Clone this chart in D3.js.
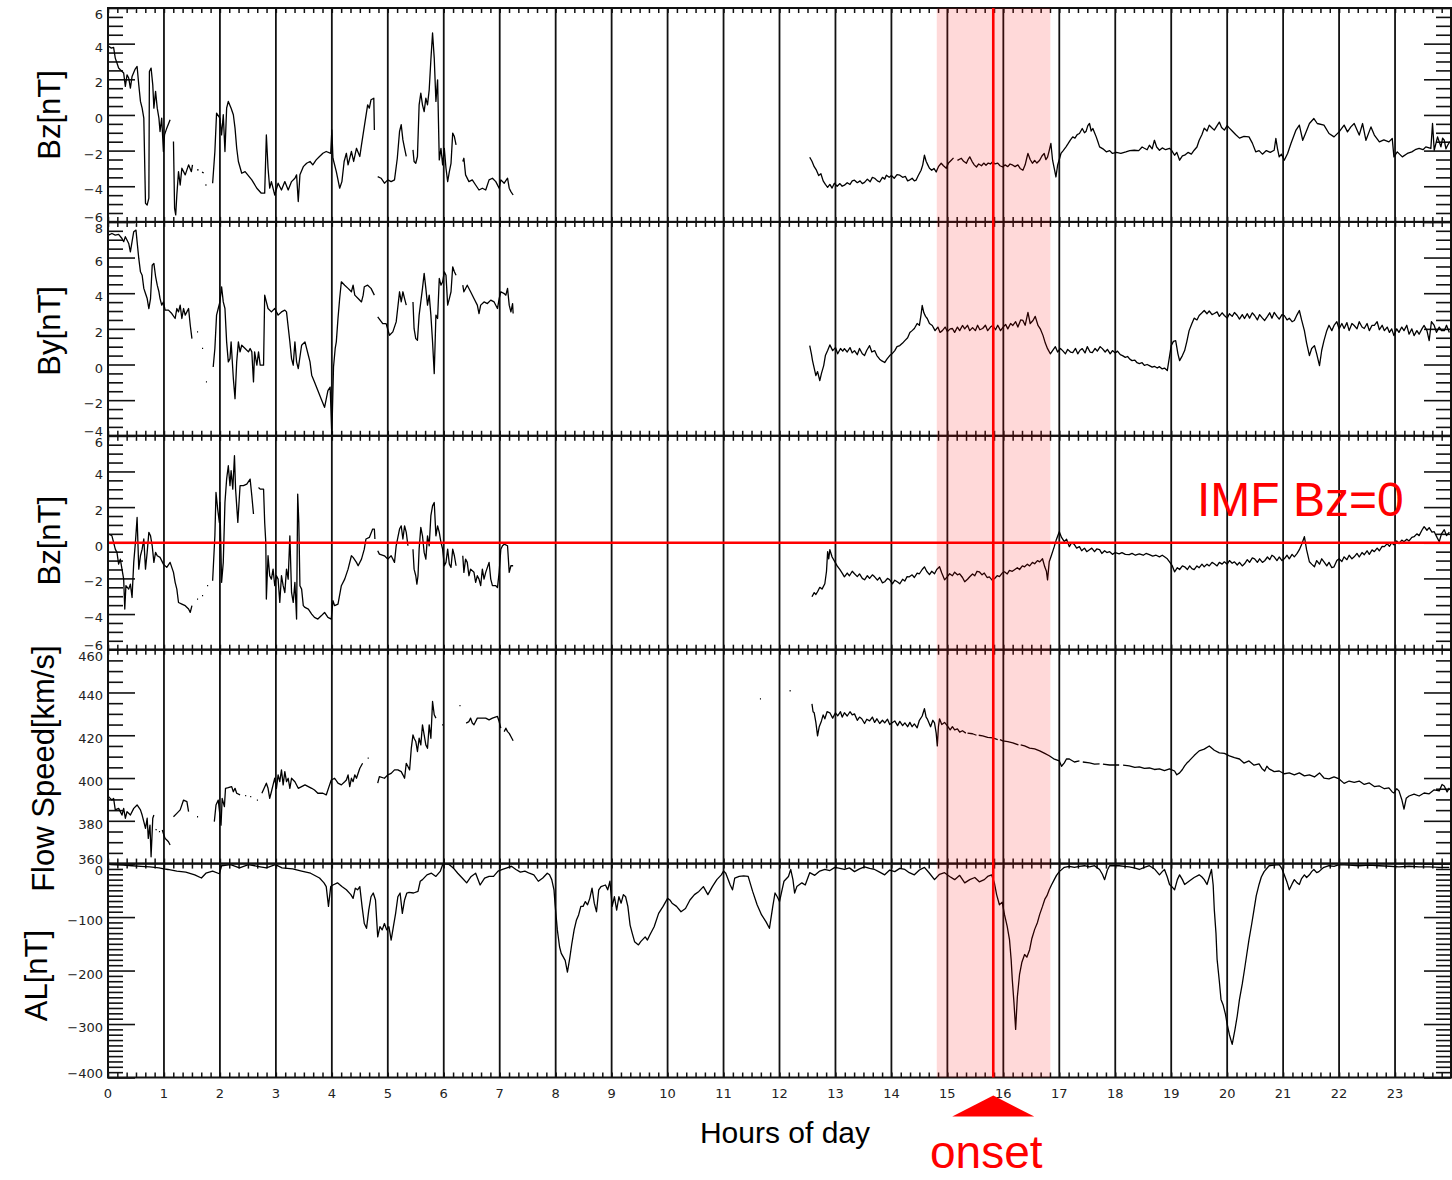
<!DOCTYPE html>
<html>
<head>
<meta charset="utf-8">
<script src="https://cdn.jsdelivr.net/npm/d3@7/dist/d3.min.js"></script>
<style>
  html, body { margin: 0; padding: 0; background: #fff; }
  svg { display: block; }
</style>
</head>
<body>
<svg id="chart" width="1452" height="1180"></svg>
<script>
// ---- DATA (hour of day, value); null breaks the trace ----
const bzTop = [
  [0.01,3.85],[0.06,3.75],[0.10,3.79],[0.13,3.19],[0.16,2.91],[0.19,2.63],[0.22,2.54],[0.28,2.35],[0.31,1.60],[0.34,2.25],[0.37,2.07],[0.40,1.51],[0.43,2.16],[0.48,2.54],[0.52,2.72],[0.55,1.69],[0.58,0.76],[0.61,0.38],[0.64,-0.18],[0.67,-4.96],[0.70,-5.05],[0.73,-4.67],[0.74,2.44],[0.77,2.63],[0.80,1.69],[0.82,0.38],[0.85,1.32],[0.88,0.38],[0.91,-0.18],[0.93,-0.93],[0.96,-0.18],[0.99,-2.05],[1.01,-1.12],[1.05,-0.74],[1.11,-0.27], null,
  [1.17,-1.49],[1.19,-5.24],[1.21,-5.61],[1.23,-4.49],[1.26,-3.18],[1.29,-3.93],[1.32,-2.99],[1.38,-3.36],[1.44,-2.80],[1.49,-3.18],[1.51,-2.80], null,
  [1.59,-3.08],[1.62,-3.08], null, [1.68,-3.21],[1.71,-3.25], null, [1.74,-3.93],[1.76,-3.93], null,
  [1.87,-3.83],[1.91,-2.05],[1.94,0.10],[2.00,-0.18],[2.03,-1.12],[2.06,0.01],[2.09,-2.05],[2.12,0.38],[2.15,0.76],[2.20,0.38],[2.24,0.01],[2.27,-0.74],[2.30,-1.87],[2.33,-2.61],[2.39,-3.27],[2.45,-3.18],[2.57,-3.64],[2.66,-4.11],[2.74,-4.39],[2.80,-4.39],[2.83,-1.12],[2.86,-2.99],[2.89,-4.11],[2.92,-3.74],[2.98,-4.49],[3.04,-3.83],[3.10,-4.21],[3.16,-3.74],[3.22,-4.21],[3.28,-3.74],[3.34,-3.55],[3.37,-3.36],[3.40,-4.86],[3.43,-3.36],[3.49,-2.90],[3.55,-2.71],[3.61,-2.61],[3.66,-2.80],[3.72,-2.52],[3.78,-2.33],[3.84,-2.15],[3.90,-2.05],[3.98,-2.15],[4.00,-0.84],[4.02,-2.43],[4.08,-3.18],[4.14,-4.11],[4.18,-3.74],[4.22,-2.61],[4.26,-2.15],[4.29,-2.80],[4.35,-2.05],[4.39,-2.61],[4.44,-1.87],[4.50,-2.33],[4.53,-1.68],[4.58,-0.65],[4.64,0.57],[4.67,0.38],[4.70,0.85],[4.75,0.94],[4.76,-0.84], null,
  [4.82,-3.46],[4.88,-3.55],[4.94,-3.83],[5.00,-3.64],[5.06,-3.74],[5.12,-3.64],[5.17,-2.43],[5.21,-0.93],[5.24,-0.55],[5.27,-1.40],[5.30,-1.87],[5.33,-2.33], null,
  [5.45,-1.96],[5.47,-2.61],[5.50,-2.71],[5.53,-2.33],[5.56,0.57],[5.59,1.22],[5.62,0.57],[5.65,0.19],[5.68,0.94],[5.71,0.57],[5.74,1.41],[5.77,3.10],[5.80,4.60],[5.83,3.19],[5.86,0.76],[5.89,1.97],[5.92,-2.52],[5.95,-1.87],[5.98,-2.80],[6.01,-1.87],[6.04,-2.99],[6.07,-3.74],[6.10,-3.18],[6.13,-2.71],[6.16,-1.02],[6.19,-1.21],[6.22,-1.68], null,
  [6.34,-2.61],[6.36,-2.43],[6.39,-3.36],[6.45,-3.74],[6.51,-3.64],[6.57,-3.93],[6.63,-4.21],[6.69,-4.11],[6.75,-4.21],[6.81,-3.64],[6.87,-3.55],[6.93,-3.74],[6.99,-4.11],[7.02,-3.64],[7.08,-3.83],[7.14,-3.55],[7.17,-4.11],[7.20,-4.30],[7.24,-4.49], null,
  [12.54,-2.37],[12.58,-2.6],[12.62,-2.9],[12.66,-3.1],[12.70,-3.4],[12.74,-3.3],[12.78,-3.7],[12.82,-3.9],[12.86,-4.06],[12.90,-3.9],[12.94,-4.1],[12.98,-3.83],[13.03,-4.0],[13.08,-3.85],[13.12,-4.0],[13.16,-3.94],[13.21,-3.8],[13.26,-3.9],[13.30,-3.7],[13.34,-3.66],[13.39,-3.8],[13.44,-3.7],[13.48,-3.85],[13.52,-3.78],[13.57,-3.6],[13.62,-3.75],[13.66,-3.5],[13.70,-3.55],[13.75,-3.7],[13.79,-3.76],[13.84,-3.5],[13.88,-3.6],[13.91,-3.38],[13.96,-3.5],[14.00,-3.4],[14.05,-3.55],[14.10,-3.35],[14.15,-3.38],[14.20,-3.5],[14.25,-3.45],[14.29,-3.7],[14.32,-3.66],[14.37,-3.55],[14.41,-3.7],[14.44,-3.66],[14.48,-3.4],[14.53,-3.10],[14.56,-2.8],[14.59,-2.26],[14.62,-2.6],[14.65,-2.8],[14.68,-2.99],[14.72,-3.1],[14.76,-3.0],[14.80,-3.20],[14.84,-2.9],[14.89,-2.71],[14.93,-2.85],[14.98,-2.99],[15.02,-2.7],[15.07,-2.54],[15.11,-2.41], null,
  [15.18,-2.55],[15.25,-2.43],[15.29,-2.6],[15.34,-2.71],[15.37,-2.5],[15.40,-2.35],[15.44,-2.6],[15.48,-2.8],[15.52,-2.92],[15.56,-2.75],[15.61,-2.85],[15.65,-2.7],[15.69,-2.82],[15.73,-2.7],[15.77,-2.75],[15.81,-2.63],[15.85,-2.75],[15.90,-2.7],[15.94,-2.85],[15.99,-2.92],[16.03,-2.8],[16.08,-2.9],[16.12,-2.75],[16.17,-2.82],[16.21,-2.9],[16.26,-2.8],[16.30,-3.0],[16.35,-3.10],[16.39,-2.8],[16.42,-2.4],[16.44,-2.16],[16.48,-2.5],[16.52,-2.71],[16.56,-2.55],[16.60,-2.7],[16.65,-2.54],[16.69,-2.3],[16.73,-2.16],[16.76,-2.5],[16.79,-2.37],[16.82,-2.0],[16.85,-1.60],[16.88,-2.54],[16.91,-3.0],[16.94,-3.48],[16.97,-2.82],[17.00,-2.5],[17.03,-2.16],[17.07,-2.0],[17.12,-1.79],[17.16,-1.6],[17.20,-1.4],[17.24,-1.23],[17.28,-1.3],[17.32,-1.1],[17.36,-1.04],[17.41,-0.76],[17.45,-1.0],[17.48,-0.91],[17.51,-0.6],[17.54,-0.48],[17.57,-0.9],[17.60,-0.76],[17.63,-1.0],[17.66,-1.23],[17.69,-1.5],[17.72,-1.79],[17.78,-1.9],[17.84,-2.07],[17.90,-2.0],[17.95,-2.16],[18.02,-2.1],[18.10,-2.15],[18.19,-2.07],[18.26,-2.0],[18.34,-1.98],[18.42,-2.0],[18.48,-1.8],[18.52,-1.87],[18.57,-1.95],[18.61,-1.70],[18.66,-1.9],[18.70,-1.42],[18.74,-1.8],[18.79,-1.98],[18.84,-1.85],[18.90,-1.95],[18.97,-1.87],[19.01,-2.0],[19.06,-2.26],[19.10,-2.1],[19.15,-2.54],[19.20,-2.3],[19.24,-2.26],[19.30,-2.1],[19.36,-2.2],[19.41,-1.98],[19.46,-1.8],[19.50,-1.42],[19.55,-1.1],[19.59,-0.74],[19.64,-0.9],[19.68,-0.57],[19.72,-0.7],[19.77,-0.85],[19.82,-0.6],[19.86,-0.40],[19.90,-0.7],[19.95,-0.85],[20.00,-0.6],[20.04,-0.74],[20.09,-0.9],[20.15,-1.1],[20.22,-1.30],[20.30,-1.2],[20.39,-1.23],[20.45,-1.58],[20.51,-2.07],[20.57,-2.0],[20.63,-2.20],[20.70,-2.0],[20.77,-2.1],[20.84,-1.98],[20.87,-1.32],[20.90,-1.9],[20.93,-2.35],[20.97,-2.2],[21.02,-2.54],[21.08,-2.16],[21.14,-1.60],[21.23,-0.85],[21.29,-0.57],[21.35,-1.42],[21.41,-0.95],[21.47,-0.48],[21.55,-0.20],[21.61,-0.48],[21.73,-0.57],[21.82,-1.04],[21.91,-1.23],[22.00,-0.95],[22.09,-0.57],[22.15,-0.95],[22.21,-0.67],[22.27,-0.48],[22.36,-1.13],[22.42,-0.48],[22.48,-1.42],[22.57,-0.67],[22.63,-1.13],[22.72,-1.51],[22.80,-1.4],[22.89,-1.51],[22.95,-1.32],[22.98,-2.35],[23.04,-2.07],[23.13,-2.35],[23.22,-2.16],[23.30,-2.07],[23.36,-1.95],[23.43,-1.88],[23.50,-1.95],[23.55,-1.79],[23.64,-1.88],[23.67,-0.48],[23.70,-1.98],[23.76,-1.23],[23.82,-1.79],[23.85,-1.3],[23.88,-1.42],[23.91,-1.9],[23.94,-1.70],[23.98,-1.5]
];

const byImf = [
  [0.01,7.26],[0.07,7.35],[0.13,7.26],[0.19,7.30],[0.25,7.07],[0.28,6.89],[0.31,7.17],[0.37,6.79],[0.40,6.32],[0.43,6.89],[0.46,7.45],[0.50,7.54],[0.52,6.89],[0.55,5.95],[0.58,5.20],[0.61,5.01],[0.64,4.27],[0.67,3.98],[0.70,3.70],[0.73,3.14],[0.76,3.70],[0.79,5.57],[0.82,5.67],[0.85,4.95],[0.88,4.45],[0.91,4.08],[0.93,3.70],[0.96,3.33],[0.99,3.51],[1.02,3.05],[1.08,3.05],[1.14,2.86],[1.20,2.58],[1.23,3.14],[1.26,2.95],[1.29,3.33],[1.32,2.58],[1.35,3.14],[1.38,2.77],[1.44,3.14],[1.47,2.20],[1.50,1.45], null,
  [1.59,1.83],[1.61,1.83], null, [1.68,0.90],[1.70,0.90], null, [1.75,-0.98],[1.77,-0.98], null,
  [1.88,-0.14],[1.91,0.90],[1.94,2.77],[1.97,3.14],[2.00,3.51],[2.03,4.36],[2.06,3.51],[2.09,3.14],[2.12,1.27],[2.15,0.15],[2.18,0.33],[2.20,1.27],[2.24,-0.79],[2.27,-1.92],[2.30,0.15],[2.33,1.27],[2.36,0.71],[2.39,1.08],[2.45,0.90],[2.51,0.71],[2.54,0.90],[2.57,0.71],[2.60,-0.98],[2.62,0.71],[2.66,-0.04],[2.69,0.71],[2.72,-0.04],[2.78,-0.04],[2.80,3.89],[2.83,3.51],[2.86,3.14],[2.92,2.95],[2.98,3.14],[3.04,2.77],[3.10,2.95],[3.16,3.05],[3.19,2.95],[3.25,1.27],[3.28,0.33],[3.31,-0.04],[3.34,1.27],[3.37,0.15],[3.40,-0.23],[3.46,1.08],[3.52,1.27],[3.58,0.52],[3.61,0.15],[3.64,-0.60],[3.69,-0.98],[3.75,-1.46],[3.81,-1.93],[3.87,-2.40],[3.93,-1.46],[3.97,-1.27],[4.00,-3.98],[4.03,-0.14],[4.06,0.90],[4.08,1.27],[4.11,2.58],[4.14,3.70],[4.17,4.64],[4.23,4.45],[4.29,4.27],[4.35,4.08],[4.38,4.45],[4.41,3.89],[4.47,3.70],[4.53,3.51],[4.56,3.89],[4.58,4.36],[4.64,4.45],[4.70,4.27],[4.76,3.89], null,
  [4.82,2.67],[4.91,2.29],[4.97,2.29],[5.03,1.64],[5.09,1.83],[5.15,2.39],[5.21,4.08],[5.24,3.51],[5.27,4.08],[5.30,3.70],[5.33,3.33], null,
  [5.45,3.51],[5.47,2.01],[5.50,1.45],[5.53,1.36],[5.56,2.77],[5.62,4.27],[5.65,5.11],[5.68,4.27],[5.71,3.33],[5.74,3.89],[5.77,2.77],[5.80,1.27],[5.83,-0.51],[5.86,2.77],[5.89,2.58],[5.92,4.83],[5.95,4.45],[5.98,4.64],[6.01,5.20],[6.04,5.01],[6.07,3.33],[6.10,3.70],[6.13,4.08],[6.16,5.48],[6.19,5.20],[6.22,5.01], null,
  [6.34,4.45],[6.36,4.08],[6.42,4.45],[6.48,4.08],[6.54,3.70],[6.60,3.33],[6.63,2.86],[6.66,3.33],[6.72,3.51],[6.78,3.42],[6.84,3.61],[6.90,3.51],[6.96,3.14],[6.99,3.70],[7.02,4.08],[7.08,3.98],[7.11,3.89],[7.14,4.27],[7.17,3.33],[7.20,2.95],[7.23,3.42],[7.24,2.86], null,
  [12.54,1.06],[12.57,0.6],[12.59,0.22],[12.62,-0.2],[12.65,-0.62],[12.68,-0.4],[12.72,-0.90],[12.75,-0.5],[12.79,-0.06],[12.82,0.5],[12.86,0.78],[12.90,1.1],[12.95,0.78],[13.00,0.95],[13.04,0.60],[13.09,0.9],[13.13,0.75],[13.16,0.89],[13.21,0.7],[13.26,0.95],[13.30,0.65],[13.34,0.78],[13.39,0.55],[13.43,0.9],[13.48,0.6],[13.52,0.50],[13.56,0.8],[13.61,1.06],[13.65,0.7],[13.70,0.78],[13.74,0.5],[13.79,0.30],[13.83,0.2],[13.88,0.11],[13.92,0.3],[13.97,0.50],[14.01,0.6],[14.06,0.78],[14.10,1.0],[14.15,1.06],[14.20,1.2],[14.24,1.34],[14.29,1.5],[14.33,1.79],[14.37,1.9],[14.41,2.02],[14.46,2.3],[14.50,2.20],[14.53,2.8],[14.55,3.31],[14.58,2.9],[14.61,2.7],[14.64,2.58],[14.68,2.3],[14.73,2.19],[14.78,1.9],[14.83,2.1],[14.87,1.8],[14.91,1.90],[14.96,2.1],[15.00,1.85],[15.05,2.0],[15.09,2.02],[15.13,1.8],[15.18,2.1],[15.22,1.9],[15.27,2.19],[15.31,2.0],[15.36,2.2],[15.40,1.9],[15.45,2.07],[15.50,1.9],[15.54,2.2],[15.58,1.95],[15.63,2.02],[15.68,2.2],[15.72,1.9],[15.77,2.1],[15.81,2.19],[15.86,1.95],[15.90,2.2],[15.95,1.9],[15.99,2.07],[16.04,2.25],[16.08,2.0],[16.13,2.3],[16.17,2.19],[16.22,2.4],[16.26,2.1],[16.31,2.5],[16.35,2.47],[16.39,2.2],[16.44,2.92],[16.48,2.3],[16.53,2.47],[16.57,2.7],[16.62,2.19],[16.66,2.0],[16.71,1.62],[16.75,1.2],[16.79,0.89],[16.84,0.6],[16.88,0.78],[16.93,1.0],[16.97,0.7],[17.02,0.9],[17.06,0.78],[17.11,0.6],[17.15,0.85],[17.20,0.7],[17.24,0.67],[17.29,0.9],[17.33,0.6],[17.37,0.8],[17.41,0.89],[17.46,0.65],[17.50,1.0],[17.55,0.7],[17.59,0.67],[17.64,0.9],[17.68,0.75],[17.73,1.0],[17.77,0.89],[17.82,0.7],[17.86,0.85],[17.91,0.6],[17.95,0.78],[18.00,0.65],[18.04,0.75],[18.09,0.55],[18.13,0.50],[18.18,0.4],[18.22,0.45],[18.26,0.3],[18.30,0.22],[18.35,0.25],[18.39,0.1],[18.43,0.05],[18.48,0.1],[18.52,-0.05],[18.57,0.0],[18.61,-0.06],[18.66,-0.15],[18.70,-0.1],[18.75,-0.2],[18.79,-0.12],[18.84,-0.25],[18.88,-0.2],[18.93,-0.34],[19.00,1.06],[19.04,1.3],[19.08,1.34],[19.12,0.6],[19.15,0.22],[19.20,0.5],[19.24,0.78],[19.28,1.3],[19.32,1.90],[19.37,2.3],[19.41,2.6],[19.46,2.5],[19.50,2.75],[19.55,2.9],[19.59,3.03],[19.64,2.85],[19.68,3.0],[19.73,2.8],[19.77,2.86],[19.82,2.95],[19.86,2.7],[19.91,2.9],[19.95,2.75],[20.00,2.6],[20.04,2.85],[20.09,2.7],[20.13,2.92],[20.18,2.75],[20.22,2.55],[20.27,2.8],[20.31,2.58],[20.36,2.85],[20.40,2.6],[20.45,2.9],[20.49,2.75],[20.54,2.5],[20.58,2.8],[20.63,2.6],[20.67,2.47],[20.72,2.7],[20.76,2.9],[20.80,2.6],[20.84,2.92],[20.89,2.7],[20.93,2.55],[20.98,2.8],[21.02,2.75],[21.07,2.5],[21.11,2.6],[21.16,2.4],[21.20,2.47],[21.25,2.8],[21.29,3.03],[21.33,2.5],[21.38,1.90],[21.42,1.2],[21.47,0.50],[21.51,0.9],[21.56,1.06],[21.60,0.6],[21.65,-0.06],[21.69,0.8],[21.73,1.34],[21.78,1.9],[21.82,2.2],[21.87,1.9],[21.91,2.19],[21.96,2.4],[22.00,2.0],[22.05,2.3],[22.09,2.02],[22.14,2.35],[22.18,1.9],[22.23,2.3],[22.27,2.19],[22.32,2.0],[22.36,2.4],[22.41,2.1],[22.45,2.02],[22.50,2.3],[22.54,1.9],[22.59,2.2],[22.63,2.19],[22.68,2.4],[22.72,1.95],[22.77,2.2],[22.81,1.90],[22.86,2.1],[22.90,1.8],[22.94,2.0],[22.98,1.62],[23.03,2.0],[23.07,1.8],[23.12,2.1],[23.16,1.90],[23.21,2.2],[23.25,1.7],[23.30,2.0],[23.34,1.62],[23.39,1.9],[23.43,1.7],[23.48,2.0],[23.52,2.19],[23.57,1.9],[23.61,1.34],[23.65,2.4],[23.70,2.19],[23.74,1.8],[23.79,2.1],[23.83,1.9],[23.88,1.90],[23.92,2.2],[23.97,1.8]
];

const bzLow = [
  [0.01,0.49],[0.07,0.39],[0.10,0.02],[0.13,-0.36],[0.16,-0.54],[0.19,-1.20],[0.22,-0.92],[0.25,-1.48],[0.28,-2.04],[0.30,-3.72],[0.32,-2.41],[0.37,-2.60],[0.40,-2.32],[0.43,-3.07],[0.46,-1.10],[0.49,0.02],[0.52,1.42],[0.55,-1.48],[0.58,-0.73],[0.61,-0.36],[0.64,0.21],[0.67,-1.48],[0.70,-0.54],[0.73,0.58],[0.76,0.39],[0.79,-0.17],[0.82,-1.10],[0.85,-0.54],[0.88,-0.73],[0.93,-0.82],[0.99,-1.20],[1.05,-1.38],[1.11,-1.10],[1.17,-1.66],[1.20,-2.22],[1.23,-2.60],[1.26,-3.35],[1.32,-3.44],[1.38,-3.53],[1.44,-3.72],[1.47,-3.91],[1.50,-3.53], null,
  [1.59,-3.16],[1.61,-3.16], null, [1.68,-2.97],[1.70,-2.97], null, [1.77,-2.41],[1.79,-2.41], null,
  [1.87,-2.13],[1.91,0.39],[1.93,2.82],[1.96,1.89],[1.99,1.14],[2.00,2.26],[2.03,-2.22],[2.06,-1.10],[2.09,2.26],[2.12,3.57],[2.15,4.32],[2.18,3.20],[2.20,4.04],[2.23,3.01],[2.26,4.88],[2.28,3.01],[2.32,1.14],[2.36,3.20],[2.42,3.20],[2.48,3.29],[2.54,3.57],[2.57,2.64],[2.60,1.61], null,
  [2.69,3.10],[2.72,3.01],[2.78,3.01],[2.80,1.14],[2.82,0.02],[2.83,-3.16],[2.86,-0.73],[2.89,-1.85],[2.92,-2.04],[2.95,-1.48],[2.98,-2.41],[3.01,-1.85],[3.04,-2.04],[3.07,-3.35],[3.10,-1.85],[3.13,-2.41],[3.16,-2.79],[3.19,-1.48],[3.22,-2.04],[3.25,0.39],[3.28,-2.79],[3.31,-3.35],[3.34,-2.22],[3.37,-4.28],[3.39,2.73],[3.41,1.14],[3.43,-2.41],[3.46,-2.60],[3.49,-3.53],[3.52,-3.63],[3.58,-3.72],[3.64,-4.00],[3.69,-4.19],[3.75,-4.28],[3.81,-4.10],[3.87,-3.91],[3.93,-4.19],[3.99,-4.28],[4.02,-3.25],[4.05,-3.53],[4.11,-3.44],[4.17,-2.41],[4.23,-2.04],[4.29,-1.48],[4.35,-0.73],[4.38,-0.82],[4.44,-1.10],[4.47,-1.29],[4.53,-0.92],[4.58,-0.36],[4.61,0.21],[4.67,0.30],[4.73,0.77],[4.76,0.77],[4.77,0.21], null,
  [4.82,-0.45],[4.85,-0.64],[4.94,-0.73],[5.00,-0.92],[5.06,-0.73],[5.12,-1.10],[5.15,-0.17],[5.18,0.30],[5.21,0.77],[5.24,0.95],[5.27,0.21],[5.30,0.95],[5.33,0.58],[5.36,-0.17], null,
  [5.45,-0.36],[5.47,-1.48],[5.50,-1.85],[5.52,-2.32],[5.54,-1.85],[5.56,-0.36],[5.59,0.86],[5.62,0.39],[5.65,-0.54],[5.68,-0.92],[5.71,0.39],[5.74,-0.17],[5.77,1.52],[5.80,2.07],[5.83,2.26],[5.86,0.39],[5.89,0.95],[5.92,0.58],[5.95,0.02],[5.98,-0.36],[6.01,-1.29],[6.04,-1.10],[6.07,-0.36],[6.10,-1.20],[6.13,-1.38],[6.16,-0.36],[6.19,-0.73],[6.22,-1.29], null,
  [6.34,-0.73],[6.36,-1.66],[6.39,-0.92],[6.42,-1.10],[6.45,-1.85],[6.48,-1.48],[6.54,-1.66],[6.57,-2.22],[6.60,-1.85],[6.63,-2.04],[6.66,-2.41],[6.69,-1.48],[6.72,-2.04],[6.75,-1.66],[6.78,-1.38],[6.81,-1.10],[6.84,-2.04],[6.87,-2.41],[6.93,-2.41],[6.96,-2.51],[6.99,-1.66],[7.02,-0.36],[7.05,-0.17],[7.08,-0.08],[7.14,-0.17],[7.17,-1.66],[7.20,-1.29],[7.24,-1.29], null,
  [12.58,-3.03],[12.62,-2.8],[12.65,-2.9],[12.68,-2.75],[12.72,-2.5],[12.76,-2.6],[12.81,-2.30],[12.84,-1.6],[12.86,-0.50],[12.88,-0.9],[12.90,-0.39],[12.94,-0.8],[12.99,-1.07],[13.03,-1.3],[13.08,-1.51],[13.12,-1.7],[13.16,-1.91],[13.21,-1.7],[13.25,-1.85],[13.30,-1.6],[13.34,-1.74],[13.39,-1.9],[13.43,-1.75],[13.48,-2.0],[13.52,-2.08],[13.57,-1.85],[13.61,-2.0],[13.66,-1.8],[13.70,-1.91],[13.75,-2.1],[13.79,-1.95],[13.84,-2.25],[13.88,-2.19],[13.93,-2.0],[13.97,-2.08],[14.02,-2.3],[14.06,-2.1],[14.11,-2.2],[14.15,-2.30],[14.20,-2.05],[14.24,-2.15],[14.28,-1.9],[14.32,-1.91],[14.37,-1.8],[14.41,-1.95],[14.46,-1.7],[14.50,-1.74],[14.55,-1.5],[14.59,-1.35],[14.63,-1.6],[14.68,-1.79],[14.72,-1.6],[14.77,-1.74],[14.81,-1.5],[14.86,-1.35],[14.90,-1.7],[14.95,-2.08],[15.00,-1.9],[15.04,-1.74],[15.09,-1.85],[15.13,-1.65],[15.18,-1.8],[15.22,-1.74],[15.27,-1.95],[15.31,-2.19],[15.36,-2.05],[15.40,-1.91],[15.45,-1.75],[15.49,-1.85],[15.53,-1.6],[15.57,-1.63],[15.62,-1.8],[15.66,-1.7],[15.71,-1.95],[15.75,-1.91],[15.80,-2.1],[15.84,-2.02],[15.89,-1.85],[15.93,-1.9],[15.98,-1.7],[16.02,-1.63],[16.07,-1.75],[16.11,-1.55],[16.16,-1.6],[16.20,-1.51],[16.25,-1.4],[16.29,-1.5],[16.34,-1.3],[16.38,-1.35],[16.43,-1.2],[16.47,-1.3],[16.52,-1.1],[16.56,-1.18],[16.61,-1.0],[16.65,-1.07],[16.70,-0.9],[16.74,-1.35],[16.77,-1.6],[16.79,-2.08],[16.82,-1.07],[16.86,-0.7],[16.91,-0.22],[16.95,0.2],[17.00,0.62],[17.04,0.3],[17.09,0.06],[17.13,0.2],[17.18,-0.22],[17.22,0.0],[17.27,-0.1],[17.31,-0.3],[17.36,-0.22],[17.40,-0.45],[17.45,-0.3],[17.49,-0.5],[17.54,-0.39],[17.58,-0.3],[17.63,-0.5],[17.67,-0.35],[17.72,-0.39],[17.76,-0.6],[17.81,-0.45],[17.85,-0.55],[17.90,-0.50],[17.95,-0.65],[18.00,-0.55],[18.07,-0.62],[18.12,-0.55],[18.18,-0.65],[18.25,-0.67],[18.30,-0.6],[18.36,-0.7],[18.43,-0.62],[18.50,-0.7],[18.55,-0.6],[18.61,-0.67],[18.67,-0.75],[18.73,-0.7],[18.79,-0.79],[18.84,-0.7],[18.88,-0.79],[18.93,-0.9],[18.97,-1.07],[19.02,-1.3],[19.06,-1.63],[19.11,-1.4],[19.15,-1.5],[19.20,-1.3],[19.24,-1.35],[19.29,-1.5],[19.33,-1.3],[19.37,-1.45],[19.41,-1.51],[19.46,-1.3],[19.50,-1.4],[19.55,-1.2],[19.59,-1.35],[19.64,-1.2],[19.68,-1.3],[19.73,-1.1],[19.77,-1.18],[19.82,-1.3],[19.86,-1.1],[19.91,-1.2],[19.95,-1.07],[20.00,-1.2],[20.04,-1.0],[20.09,-1.15],[20.13,-1.07],[20.18,-1.25],[20.22,-1.1],[20.27,-1.3],[20.31,-1.18],[20.36,-0.95],[20.40,-1.1],[20.45,-0.85],[20.49,-0.90],[20.54,-1.1],[20.58,-0.9],[20.63,-1.1],[20.67,-1.01],[20.72,-0.8],[20.76,-0.95],[20.80,-0.7],[20.84,-0.79],[20.89,-1.0],[20.93,-0.8],[20.98,-1.0],[21.02,-0.90],[21.07,-0.7],[21.11,-0.9],[21.16,-0.65],[21.20,-0.79],[21.25,-0.6],[21.29,-0.39],[21.33,-0.1],[21.38,0.34],[21.42,-0.4],[21.47,-1.07],[21.51,-1.2],[21.56,-1.35],[21.60,-1.0],[21.65,-1.2],[21.69,-0.9],[21.73,-1.07],[21.78,-1.3],[21.82,-1.1],[21.87,-1.4],[21.91,-1.35],[21.96,-1.0],[22.00,-0.9],[22.05,-1.05],[22.09,-0.79],[22.14,-0.95],[22.18,-0.7],[22.23,-0.9],[22.27,-0.79],[22.32,-0.6],[22.36,-0.8],[22.41,-0.55],[22.45,-0.67],[22.50,-0.45],[22.54,-0.65],[22.59,-0.4],[22.63,-0.50],[22.68,-0.3],[22.72,-0.45],[22.77,-0.2],[22.81,-0.22],[22.86,-0.05],[22.90,-0.2],[22.94,0.0],[22.98,-0.11],[23.03,0.1],[23.07,-0.05],[23.12,0.15],[23.16,0.06],[23.21,0.2],[23.25,0.1],[23.30,0.3],[23.34,0.34],[23.39,0.5],[23.43,0.4],[23.48,0.7],[23.52,0.90],[23.57,0.7],[23.61,0.85],[23.66,0.6],[23.70,0.62],[23.75,0.3],[23.79,0.06],[23.83,0.5],[23.88,0.73],[23.92,0.4],[23.97,0.6]
];

const flowSpeed = [
  [0.01,391.3],[0.04,390.5],[0.07,389.7],[0.10,390.5],[0.13,385.1],[0.19,385.8],[0.22,384.3],[0.25,382.7],[0.28,385.8],[0.31,381.2],[0.34,384.3],[0.40,382.7],[0.46,385.8],[0.52,387.4],[0.58,385.1],[0.61,382.7],[0.64,379.6],[0.67,376.5],[0.70,381.2],[0.72,371.8],[0.75,378.0],[0.77,363.2],[0.80,381.2],[0.82,382.7], null,
  [0.85,376.0],[0.87,375.7], null, [0.91,375.0],[0.93,374.9], null,
  [0.97,375.7],[0.99,374.1],[1.02,371.8],[1.05,371.0],[1.08,370.2],[1.11,368.7], null,
  [1.17,381.9],[1.23,383.5],[1.29,385.1],[1.35,389.7],[1.41,389.0],[1.44,384.3], null,
  [1.59,381.9],[1.61,381.9], null,
  [1.90,379.6],[1.93,387.4],[1.97,389.7],[2.02,378.0],[2.04,390.5],[2.08,386.6],[2.10,395.2],[2.15,395.5],[2.21,396.0],[2.24,393.6],[2.27,395.2],[2.30,392.9],[2.36,392.1], null,
  [2.45,391.8],[2.47,391.8], null, [2.54,391.3],[2.56,391.3], null, [2.66,389.7],[2.68,389.7], null,
  [2.75,392.9],[2.83,397.6],[2.86,395.2],[2.89,390.5],[2.92,393.6],[2.95,396.8],[2.98,399.9],[3.01,395.2],[3.04,401.5],[3.07,398.3],[3.10,403.8],[3.13,396.8],[3.16,403.0],[3.19,398.3],[3.22,399.9],[3.25,395.2],[3.28,399.9],[3.34,398.3],[3.40,395.2],[3.46,396.0],[3.52,396.8],[3.58,396.0],[3.64,395.2],[3.69,394.4],[3.75,392.9],[3.84,392.9],[3.90,392.1],[3.96,396.8],[3.99,399.1],[4.05,399.9],[4.11,397.6],[4.17,396.8],[4.23,398.3],[4.26,399.1],[4.29,401.5],[4.32,396.0],[4.35,399.9],[4.38,398.3],[4.41,401.5],[4.44,399.9],[4.50,404.6],[4.55,406.9], null,
  [4.64,409.3],[4.66,409.3], null,
  [4.82,397.6],[4.85,400.7],[4.94,399.9],[5.00,401.5],[5.06,402.2],[5.12,403.8],[5.18,403.8],[5.24,403.0],[5.27,401.5],[5.30,399.9],[5.33,406.9],[5.36,405.4],[5.39,403.8],[5.42,413.9],[5.45,420.2],[5.47,418.6],[5.50,417.1],[5.53,412.4],[5.56,418.6],[5.59,415.5],[5.62,424.9],[5.65,420.2],[5.68,415.5],[5.71,413.9],[5.74,424.9],[5.77,418.6],[5.80,435.8],[5.83,429.6],[5.86,428.0], null,
  [5.97,424.9],[5.99,424.9], null, [6.28,433.9],[6.30,433.9], null,
  [6.40,425.7],[6.45,426.4],[6.48,428.0],[6.51,425.7],[6.54,424.9],[6.60,428.0],[6.69,428.0],[6.75,428.0],[6.81,427.2],[6.87,428.0],[6.96,428.8],[6.99,426.4],[7.02,423.3], null,
  [7.08,421.7],[7.11,423.3],[7.14,421.7],[7.17,420.9],[7.20,419.4],[7.24,417.4], null,
  [11.65,437.0],[11.67,437.0], null, [12.18,440.8],[12.20,440.8], null,
  [12.58,434.7],[12.60,431.0],[12.62,430.5],[12.65,426.0],[12.68,419.7],[12.71,424.0],[12.75,426.7],[12.78,429.5],[12.81,427.7],[12.85,431.0],[12.90,430.5],[12.95,428.0],[13.00,430.5],[13.04,429.1],[13.09,431.0],[13.12,428.5],[13.16,430.5],[13.21,429.0],[13.26,431.0],[13.30,429.5],[13.34,430.0],[13.39,427.0],[13.43,428.5],[13.47,427.7],[13.52,425.5],[13.56,427.5],[13.61,426.7],[13.66,428.5],[13.70,426.0],[13.74,427.7],[13.79,425.5],[13.84,427.0],[13.88,425.8],[13.93,427.5],[13.97,425.0],[14.02,426.0],[14.06,426.7],[14.11,424.5],[14.15,426.5],[14.20,424.5],[14.24,425.8],[14.29,424.0],[14.33,426.0],[14.37,424.0],[14.41,425.3],[14.46,423.5],[14.50,427.0],[14.55,429.0],[14.59,432.4],[14.62,428.5],[14.64,427.7],[14.70,424.0],[14.74,427.0],[14.77,425.8],[14.80,421.0],[14.82,415.0],[14.84,424.0],[14.86,427.7],[14.90,425.0],[14.95,426.0],[15.00,424.4],[15.05,422.5],[15.09,424.0],[15.13,422.5],[15.18,423.0],[15.22,421.5],[15.27,422.1],[15.33,421.0], null,
  [15.36,421.0],[15.45,420.7],[15.52,420.0], null, [15.56,420.0],[15.63,419.7],[15.72,419.0],[15.81,418.8],[15.90,418.0], null, [15.94,418.0],[15.99,417.4],[16.08,417.0],[16.17,416.4],[16.27,415.5], null, [16.31,415.5],[16.38,415.0],[16.47,414.0],[16.56,413.6],[16.65,412.7],[16.74,411.5],[16.82,410.4],[16.90,409.0],[17.00,408.0],[17.04,405.5],[17.09,407.1],[17.13,409.0],[17.18,408.9],[17.27,407.5],[17.36,408.0], null,
  [17.42,407.5],[17.54,407.1],[17.63,406.5],[17.72,406.6], null, [17.78,406.5],[17.90,406.1],[18.07,406.1], null, [18.14,406.0],[18.25,405.7],[18.35,405.0],[18.43,405.2],[18.52,404.5],[18.61,404.7],[18.70,404.0],[18.79,404.3],[18.88,403.5],[18.97,404.3],[19.06,403.3],[19.10,401.5],[19.15,402.4],[19.20,404.0],[19.24,405.7],[19.28,407.0],[19.32,408.0],[19.41,410.5],[19.50,412.7],[19.59,413.5],[19.68,415.0],[19.77,413.0],[19.86,411.8],[19.95,411.5],[20.04,410.4],[20.13,409.5],[20.22,408.9],[20.30,407.0],[20.39,408.0],[20.48,406.0],[20.57,406.6],[20.62,404.5],[20.67,403.3],[20.71,405.5],[20.75,404.3],[20.84,403.0],[20.93,403.3],[21.02,402.0],[21.11,402.4],[21.20,401.5],[21.29,402.4],[21.38,401.0],[21.47,401.5],[21.56,400.5],[21.65,402.4],[21.73,400.0],[21.82,399.6],[21.91,400.5],[22.00,399.6],[22.09,397.5],[22.18,398.6],[22.27,398.0],[22.36,398.6],[22.45,397.0],[22.54,397.7],[22.63,396.0],[22.72,396.3],[22.81,395.0],[22.89,395.4],[22.95,393.5],[22.98,393.0],[23.03,395.0],[23.07,394.0],[23.12,390.0],[23.16,385.5],[23.20,390.5],[23.25,391.6],[23.34,392.5],[23.43,391.6],[23.52,393.0],[23.61,392.6],[23.70,394.5],[23.79,394.0],[23.84,397.0],[23.88,396.3],[23.93,393.5],[23.97,395.4]
];

const alIndex = [
  [0.04,-2],[0.27,-3],[0.43,-4],[0.59,-5],[0.75,-6],[0.91,-8],[1.00,-10],[1.07,-11],[1.23,-14],[1.39,-16],[1.55,-21],[1.67,-27],[1.75,-18],[1.87,-14],[1.99,-19],[2.03,-4],[2.19,-2],[2.35,-8],[2.51,-2],[2.67,-5],[2.83,-8],[2.99,-2],[3.11,-8],[3.30,-10],[3.46,-14],[3.62,-18],[3.78,-27],[3.86,-36],[3.90,-43],[3.94,-80],[3.98,-43],[4.02,-40],[4.10,-36],[4.18,-43],[4.26,-49],[4.34,-58],[4.38,-65],[4.42,-46],[4.46,-49],[4.50,-43],[4.54,-80],[4.58,-112],[4.62,-121],[4.66,-87],[4.70,-62],[4.74,-55],[4.78,-68],[4.82,-137],[4.86,-118],[4.90,-124],[4.94,-112],[4.98,-124],[5.02,-118],[5.06,-143],[5.10,-118],[5.14,-93],[5.18,-62],[5.22,-55],[5.26,-93],[5.30,-68],[5.34,-55],[5.38,-54],[5.46,-55],[5.54,-52],[5.58,-33],[5.62,-30],[5.70,-21],[5.78,-18],[5.86,-24],[5.94,-14],[5.98,-2],[6.02,0],[6.10,-2],[6.17,-8],[6.25,-18],[6.33,-27],[6.41,-36],[6.49,-24],[6.57,-18],[6.65,-40],[6.73,-27],[6.81,-24],[6.89,-24],[6.97,-14],[7.05,-11],[7.13,-8],[7.21,-5],[7.29,-11],[7.37,-16],[7.45,-14],[7.53,-18],[7.61,-21],[7.69,-33],[7.77,-27],[7.85,-18],[7.89,-21],[7.93,-30],[7.97,-49],[7.99,-77],[8.03,-124],[8.07,-156],[8.10,-168],[8.17,-181],[8.21,-203],[8.25,-178],[8.29,-149],[8.33,-124],[8.37,-106],[8.41,-96],[8.45,-80],[8.49,-80],[8.53,-71],[8.57,-77],[8.61,-65],[8.65,-46],[8.69,-74],[8.73,-90],[8.77,-49],[8.81,-43],[8.89,-40],[8.93,-49],[8.97,-33],[9.01,-80],[9.05,-62],[9.09,-87],[9.13,-62],[9.17,-74],[9.21,-58],[9.25,-62],[9.29,-80],[9.33,-115],[9.37,-131],[9.41,-146],[9.48,-152],[9.52,-146],[9.60,-137],[9.64,-143],[9.68,-134],[9.76,-118],[9.84,-93],[9.92,-80],[10.00,-65],[10.04,-68],[10.08,-74],[10.16,-80],[10.24,-90],[10.32,-84],[10.40,-68],[10.48,-58],[10.56,-52],[10.64,-43],[10.72,-58],[10.80,-43],[10.88,-30],[10.96,-21],[11.00,-14],[11.04,-18],[11.12,-40],[11.16,-49],[11.20,-27],[11.28,-24],[11.36,-23],[11.44,-24],[11.52,-52],[11.60,-77],[11.68,-96],[11.76,-109],[11.82,-121],[11.88,-80],[11.92,-55],[11.96,-62],[12.00,-71],[12.04,-52],[12.08,-33],[12.16,-24],[12.20,-11],[12.24,-30],[12.27,-55],[12.31,-43],[12.40,-36],[12.46,-40],
  [12.54,-17],[12.63,-22],[12.72,-14],[12.81,-11],[12.90,-13],[12.99,-7],[13.08,-9],[13.16,-11],[13.25,-8],[13.34,-15],[13.43,-10],[13.52,-6],[13.61,-9],[13.70,-11],[13.79,-16],[13.88,-21],[13.97,-12],[14.06,-15],[14.15,-9],[14.24,-11],[14.32,-17],[14.41,-21],[14.50,-12],[14.59,-7],[14.68,-18],[14.77,-30],[14.86,-20],[14.95,-17],[15.04,-24],[15.13,-30],[15.22,-22],[15.31,-36],[15.40,-30],[15.49,-26],[15.57,-34],[15.66,-30],[15.72,-24],[15.79,-21],[15.84,-36],[15.88,-58],[15.93,-77],[15.98,-72],[16.02,-95],[16.07,-118],[16.11,-142],[16.14,-180],[16.16,-217],[16.19,-260],[16.22,-310],[16.25,-250],[16.29,-207],[16.33,-185],[16.38,-170],[16.42,-175],[16.47,-161],[16.51,-140],[16.56,-123],[16.61,-110],[16.65,-95],[16.70,-80],[16.74,-67],[16.78,-60],[16.82,-49],[16.86,-40],[16.91,-30],[16.95,-22],[17.00,-15],[17.09,-7],[17.18,-5],[17.27,-7],[17.36,-5],[17.45,-4],[17.54,-6],[17.63,-4],[17.68,-8],[17.72,-11],[17.77,-20],[17.81,-30],[17.86,-12],[17.90,-4],[18.07,-4],[18.16,-5],[18.25,-6],[18.34,-8],[18.43,-11],[18.52,-7],[18.61,-4],[18.70,-10],[18.79,-21],[18.84,-15],[18.88,-11],[18.93,-25],[18.97,-39],[19.02,-44],[19.06,-49],[19.11,-30],[19.15,-21],[19.20,-30],[19.24,-39],[19.33,-32],[19.41,-26],[19.50,-21],[19.55,-25],[19.59,-30],[19.64,-39],[19.68,-25],[19.72,-11],[19.75,-40],[19.77,-86],[19.80,-130],[19.82,-179],[19.86,-220],[19.89,-254],[19.93,-265],[19.97,-282],[20.00,-300],[20.04,-320],[20.09,-338],[20.14,-310],[20.18,-285],[20.22,-254],[20.27,-225],[20.31,-198],[20.35,-170],[20.39,-142],[20.44,-112],[20.48,-86],[20.52,-60],[20.57,-39],[20.61,-25],[20.66,-15],[20.75,-4],[20.84,-3],[20.93,-2],[20.98,-10],[21.02,-21],[21.07,-35],[21.11,-49],[21.16,-38],[21.20,-30],[21.25,-36],[21.29,-39],[21.33,-28],[21.38,-21],[21.42,-26],[21.47,-21],[21.51,-15],[21.55,-11],[21.60,-17],[21.64,-15],[21.69,-10],[21.73,-7],[21.82,-4],[21.91,-5],[22.00,-2],[22.18,-3],[22.36,-4],[22.54,-3],[22.72,-4],[22.90,-5],[23.07,-6],[23.25,-5],[23.43,-6],[23.61,-6],[23.79,-7],[23.97,-7]
];

const panelLabels = ['Bz[nT]', 'By[nT]', 'Bz[nT]', 'Flow Speed[km/s]', 'AL[nT]'];
const panelDomains = [[-6, 6], [-4, 8], [-6, 6], [360, 460], [-400, 0]];
const majorSteps = [2, 2, 2, 20, 100];
const minorSteps = [0.5, 0.5, 0.5, 5, 10];
const hourTicks = d3.range(0, 24);
const onsetHour = 15.82;
const substormBand = [14.81, 16.84];

// ---- LAYOUT ----
const svg = d3.select('#chart');
const plotLeft = 108, plotRight = 1451, plotTop = 8, panelH = 213.9;
const x = d3.scaleLinear().domain([0, 24]).range([plotLeft, plotRight]);
const fontTicks = '"DejaVu Sans", sans-serif';
const fontLabels = '"Liberation Sans", Arial, sans-serif';
const fmt = d => (d < 0 ? '\u2212' + Math.abs(d) : String(d));
const labelX = [60, 60, 60, 54, 47];
const labelShift = [0, 2, -2, 12, 5];

const series = [bzTop, byImf, bzLow, flowSpeed, alIndex];

series.forEach((data, i) => {
    const y0 = plotTop + i * panelH, y1 = y0 + panelH;
    const y = d3.scaleLinear().domain(panelDomains[i]).range([y1, y0]);
    const g = svg.append('g');
    const [lo, hi] = panelDomains[i];
    const majors = d3.range(lo, hi + 1e-9, majorSteps[i]);
    const minors = d3.range(lo, hi + 1e-9, minorSteps[i]).filter(v => !majors.some(m => Math.abs(m - v) < 1e-9));

    // hour grid lines
    g.selectAll('line.hr').data(d3.range(1, 24)).join('line')
        .attr('x1', d => x(d)).attr('x2', d => x(d))
        .attr('y1', y0).attr('y2', y1)
        .attr('stroke', '#111').attr('stroke-width', 1.8);

    // y ticks (left + right, pointing inward)
    const yTicks = (axisFn, xpos, vals, len) => {
        g.append('g').attr('transform', `translate(${xpos},0)`)
            .call(axisFn(y).tickValues(vals).tickSize(-len).tickFormat(''))
            .call(s => s.select('.domain').remove())
            .selectAll('line').attr('stroke', '#111').attr('stroke-width', 1.6);
    };
    yTicks(d3.axisLeft, plotLeft, majors, 27);
    yTicks(d3.axisLeft, plotLeft, minors, 15);
    yTicks(d3.axisRight, plotRight, majors, 27);
    yTicks(d3.axisRight, plotRight, minors, 15);

    // x minor ticks every 10 min on top and bottom edges
    const xMinor = d3.range(0, 24 * 6 + 1).map(k => k / 6);
    g.append('g').attr('transform', `translate(0,${y0})`)
        .call(d3.axisTop(x).tickValues(xMinor).tickSize(-5).tickFormat(''))
        .call(s => s.select('.domain').remove())
        .selectAll('line').attr('stroke', '#111').attr('stroke-width', 1.5);
    g.append('g').attr('transform', `translate(0,${y1})`)
        .call(d3.axisBottom(x).tickValues(xMinor).tickSize(-5).tickFormat(''))
        .call(s => s.select('.domain').remove())
        .selectAll('line').attr('stroke', '#111').attr('stroke-width', 1.5);

    // y tick labels (end labels nudged inward, IDL style)
    g.selectAll('text.yl').data(majors).join('text')
        .attr('x', plotLeft - 5)
        .attr('y', (d, k) => y(d) + (k === 0 ? 0 : k === majors.length - 1 ? 11 : 8))
        .attr('text-anchor', 'end')
        .attr('font-family', fontTicks).attr('font-size', 13).attr('fill', '#222')
        .text(fmt);

    // panel label
    g.append('text')
        .attr('transform', `translate(${labelX[i]},${(y0 + y1) / 2 + labelShift[i]}) rotate(-90)`)
        .attr('text-anchor', 'middle')
        .attr('font-family', fontLabels).attr('font-size', 31).attr('fill', '#000')
        .text(panelLabels[i]);

    // data trace
    const clipId = 'clip' + i;
    svg.append('clipPath').attr('id', clipId).append('rect')
        .attr('x', plotLeft).attr('y', y0).attr('width', plotRight - plotLeft).attr('height', panelH);
    g.append('path')
        .datum(data)
        .attr('clip-path', `url(#${clipId})`)
        .attr('fill', 'none').attr('stroke', '#000').attr('stroke-width', 1.3)
        .attr('stroke-linejoin', 'round')
        .attr('d', d3.line().defined(d => d !== null).x(d => x(d[0])).y(d => y(d[1])));

    // IMF Bz = 0 reference
    if (i === 2) {
        g.append('line')
            .attr('x1', plotLeft).attr('x2', plotRight).attr('y1', y(0)).attr('y2', y(0))
            .attr('stroke', '#ff0000').attr('stroke-width', 2.5);
        g.append('text')
            .attr('x', x(19.46)).attr('y', y(0) - 27)
            .attr('font-family', fontLabels).attr('font-size', 48).attr('fill', '#ff0000')
            .text('IMF Bz=0');
    }

    // frame
    g.append('rect')
        .attr('x', plotLeft).attr('y', y0).attr('width', plotRight - plotLeft).attr('height', panelH)
        .attr('fill', 'none').attr('stroke', '#111').attr('stroke-width', 2);
});

const plotBottom = plotTop + 5 * panelH;

// substorm band and onset line
svg.append('rect')
    .attr('x', x(substormBand[0])).attr('y', plotTop)
    .attr('width', x(substormBand[1]) - x(substormBand[0])).attr('height', plotBottom - plotTop)
    .attr('fill', '#ff0000').attr('opacity', 0.15);
svg.append('line')
    .attr('x1', x(onsetHour)).attr('x2', x(onsetHour)).attr('y1', plotTop).attr('y2', plotBottom)
    .attr('stroke', '#ff0000').attr('stroke-width', 2.6);

// x tick labels
svg.selectAll('text.xl').data(hourTicks).join('text')
    .attr('x', d => x(d)).attr('y', plotBottom + 20)
    .attr('text-anchor', 'middle')
    .attr('font-family', fontTicks).attr('font-size', 13).attr('fill', '#222')
    .text(d => d);

svg.append('text')
    .attr('x', 785).attr('y', 1143)
    .attr('text-anchor', 'middle')
    .attr('font-family', fontLabels).attr('font-size', 30).attr('fill', '#000')
    .text('Hours of day');

// onset marker
const ox = x(onsetHour);
svg.append('path')
    .attr('d', `M${ox},${plotBottom + 18} L${ox - 41},${plotBottom + 39} L${ox + 41},${plotBottom + 39} Z`)
    .attr('fill', '#ff0000');
svg.append('text')
    .attr('x', ox - 7).attr('y', 1168)
    .attr('text-anchor', 'middle')
    .attr('font-family', fontLabels).attr('font-size', 46).attr('fill', '#ff0000')
    .text('onset');
</script>
</body>
</html>
